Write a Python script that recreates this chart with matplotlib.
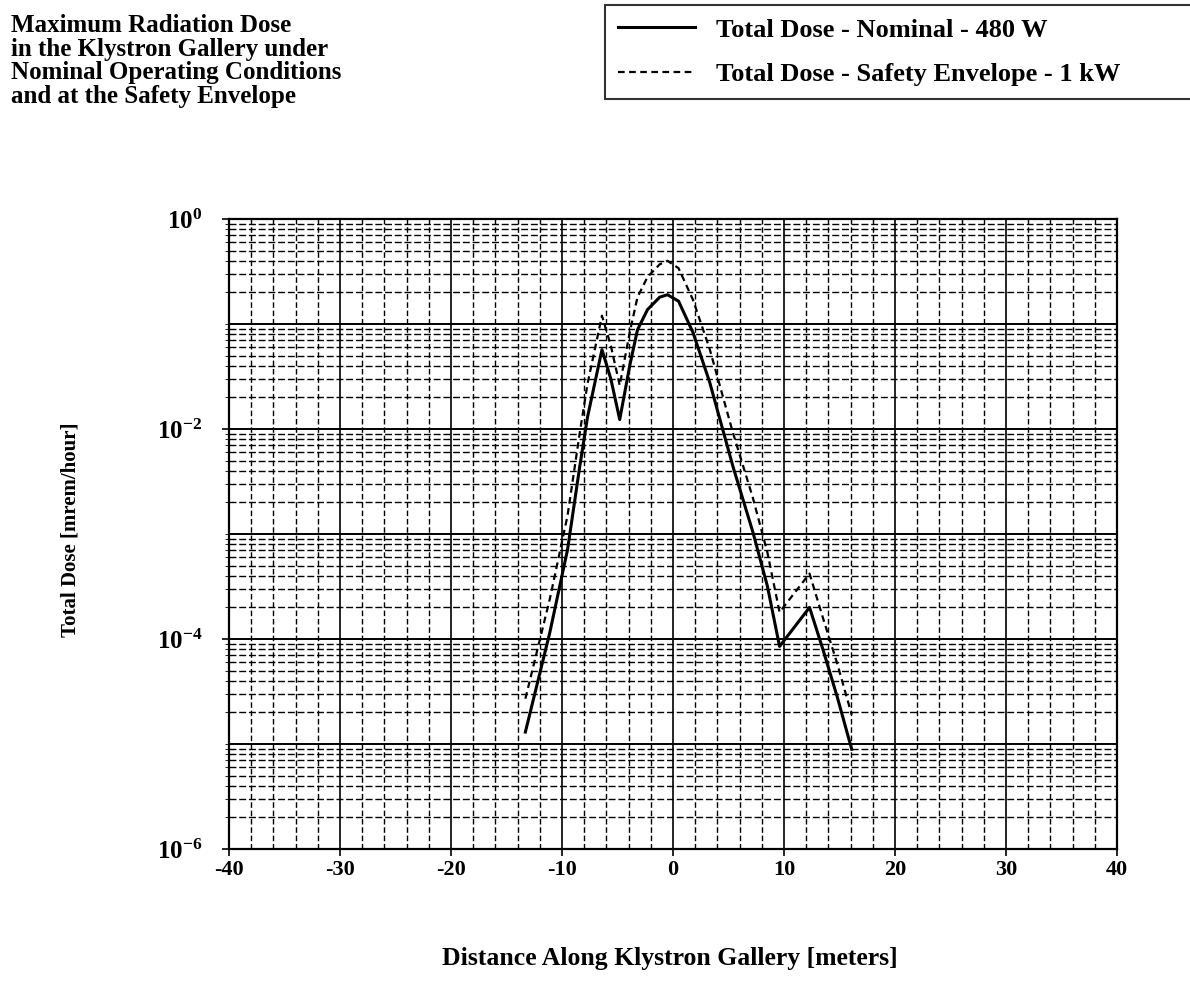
import numpy as np
import matplotlib
matplotlib.use("Agg")
import matplotlib.pyplot as plt
from matplotlib.ticker import FixedLocator, FuncFormatter, LogLocator, NullFormatter

plt.rcParams['font.family'] = ['Liberation Serif', 'DejaVu Serif']
plt.rcParams['font.weight'] = 'bold'
plt.rcParams['axes.unicode_minus'] = False
plt.rcParams['mathtext.fontset'] = 'custom'
plt.rcParams['mathtext.rm'] = 'Liberation Serif:bold'
plt.rcParams['mathtext.bf'] = 'Liberation Serif:bold'
plt.rcParams['mathtext.it'] = 'Liberation Serif:bold'

# distance along gallery [m]
distance = [-13.3, -11.1, -9.5, -8.4, -7.7, -6.4, -5.6, -4.8, -3.9, -3.2, -2.3, -1.2,
            -0.5, 0.5, 1.8, 3.3, 5.4, 7.2, 8.5, 9.6, 12.3, 13.5, 14.8, 16.1]
# total dose [mrem/hour]
dose_nominal = [1.3e-5, 1.15e-4, 7.1e-4, 4.4e-3, 0.013, 0.057, 0.03, 0.0123, 0.04, 0.088, 0.137, 0.18,
                0.19, 0.165, 0.083, 0.028, 0.0044, 1.04e-3, 3.2e-4, 8.5e-5, 2.0e-4, 8e-5, 2.8e-5, 8.9e-6]
dose_safety = [2.7e-5, 2.4e-4, 1.5e-3, 9.2e-3, 0.027, 0.12, 0.062, 0.026, 0.083, 0.18, 0.28, 0.37,
               0.40, 0.34, 0.17, 0.058, 0.0092, 2.2e-3, 6.7e-4, 1.8e-4, 4.2e-4, 1.6e-4, 5.8e-5, 1.9e-5]

labels = ['Total Dose - Nominal - 480 W', 'Total Dose - Safety Envelope - 1 kW']
x_ticks = [-40, -30, -20, -10, 0, 10, 20, 30, 40]
y_ticks = [1e-6, 1e-4, 1e-2, 1e0]

fig = plt.figure(figsize=(11.9, 9.99), dpi=100)
ax = fig.add_axes([229 / 1190, 1 - 849 / 999, (1117 - 229) / 1190, (849 - 219) / 999])

ax.set_yscale('log')
ax.set_xlim(-40, 40)
ax.set_ylim(1e-6, 1e0)

# grid: decades solid, minors dashed, verticals every 2 m
for e in range(-6, 1):
    ax.axhline(10.0 ** e, color='black', lw=1.4, zorder=1)
    if e < 0:
        for s in range(2, 10):
            ax.axhline(s * 10.0 ** e, color='black', lw=1.0, ls=(0, (5, 2)), zorder=1)
for xv in range(-38, 40, 2):
    if xv % 10 == 0:
        ax.axvline(xv, color='black', lw=1.2, zorder=1)
    else:
        ax.axvline(xv, color='black', lw=1.0, ls=(0, (4, 2)), zorder=1)

l1, = ax.plot(distance, dose_nominal, color='black', lw=2.2, zorder=3)
l2, = ax.plot(distance, dose_safety, color='black', lw=1.6, ls=(0, (3, 2)), zorder=3)

ax.xaxis.set_major_locator(FixedLocator(x_ticks))
ax.yaxis.set_major_locator(FixedLocator(y_ticks))
ax.yaxis.set_minor_locator(LogLocator(base=10, subs=np.arange(1, 10), numticks=100))
ax.yaxis.set_minor_formatter(NullFormatter())
ax.yaxis.set_major_formatter(FuncFormatter(lambda v, p: r'$\mathbf{10^{%d}}$' % round(np.log10(v))))
ax.tick_params(axis='x', which='major', labelsize=16, direction='out', length=5, width=1.2, pad=3)
ax.tick_params(axis='y', which='major', labelsize=18, direction='out', length=5, width=1.2, pad=14)
ax.tick_params(axis='y', which='minor', length=3, direction='out')
for lab in ax.get_xticklabels():
    lab.set_fontweight('bold')

for sp in ax.spines.values():
    sp.set_linewidth(1.6)

fig.text(70 / 1190, 1 - 530 / 999, 'Total Dose [mrem/hour]', rotation=90,
         ha='center', va='center', fontsize=15, fontweight='bold')
fig.text(670 / 1190, 1 - 958 / 999, 'Distance Along Klystron Gallery [meters]',
         ha='center', va='center', fontsize=18.5, fontweight='bold')

fig.text(11 / 1190, 1 - 14 / 999,
         'Maximum Radiation Dose\nin the Klystron Gallery under\nNominal Operating Conditions\nand at the Safety Envelope',
         ha='left', va='top', fontsize=18, fontweight='bold', linespacing=1.04)

leg = fig.legend([l1, l2], labels,
                 loc='upper left', bbox_to_anchor=(605 / 1190, 1 - 97 / 999, 640 / 1190, 92 / 999),
                 mode='expand', frameon=True, fancybox=False, fontsize=19, handlelength=2.9,
                 labelspacing=0.8, borderpad=0.5, borderaxespad=0, handletextpad=0.8)
leg.get_frame().set_edgecolor('black')
leg.get_frame().set_linewidth(1.5)
for t in leg.get_texts():
    t.set_fontweight('bold')

fig.savefig('out.png', dpi=100)
